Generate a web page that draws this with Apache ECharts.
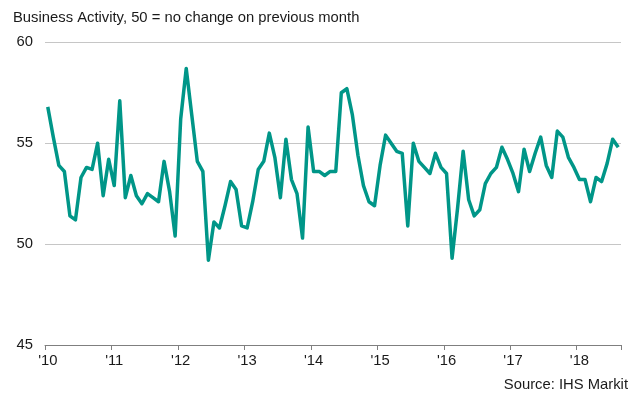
<!DOCTYPE html>
<html>
<head>
<meta charset="utf-8">
<script src="https://cdn.jsdelivr.net/npm/echarts@6/dist/echarts.min.js"></script>
<style>
html,body{margin:0;padding:0;background:#fff;}
#c{width:638px;height:398px;}
</style>
</head>
<body>
<div id="c"></div>
<script>
// Tick labels (one per January)
const yearLabels = ["'10","'11","'12","'13","'14","'15","'16","'17","'18"];
// Monthly business activity index, Jan 2010 – Aug 2018
const values2010 = [56.8,55.3,53.9,53.6,51.4,51.2,53.3,53.8,53.7,55.0,52.4,54.2];
const values2011 = [52.9,57.1,52.3,53.4,52.4,52.0,52.5,52.3,52.1,54.1,52.6,50.4];
const values2012 = [56.2,58.7,56.4,54.1,53.6,49.2,51.1,50.8,51.9,53.1,52.7,50.9];
const values2013 = [50.8,52.1,53.7,54.1,55.5,54.3,52.3,55.2,53.2,52.5,50.3,55.8];
const values2014 = [53.6,53.6,53.4,53.6,53.6,57.5,57.7,56.4,54.4,52.9,52.1,51.9];
const values2015 = [53.9,55.4,55.0,54.6,54.5,50.9,55.0,54.1,53.8,53.5,54.5,53.8];
const values2016 = [53.5,49.3,51.8,54.6,52.2,51.4,51.7,53.0,53.5,53.8,54.8,54.2];
const values2017 = [53.5,52.6,54.7,53.6,54.5,55.3,53.9,53.3,55.6,55.3,54.3,53.8];
const values2018 = [53.2,53.2,52.1,53.3,53.1,54.0,55.2,54.8];

const values = [].concat(values2010, values2011, values2012, values2013, values2014,
  values2015, values2016, values2017, values2018);
const categories = values.map((v, i) => i);

const FONT = 'Liberation Sans, Arial, sans-serif';
const FS = 14.8;
const chart = echarts.init(document.getElementById('c'), null, {renderer: 'canvas'});
chart.setOption({
  animation: false,
  backgroundColor: '#ffffff',
  grid: {left: 45, right: 17, top: 42.3, bottom: 53},
  graphic: [
    {type: 'text', left: 13, top: 10,
     style: {text: 'Business Activity, 50 = no change on previous month', font: FS + 'px ' + FONT, fill: '#1a1a1a'}},
    {type: 'text', right: 10, top: 377,
     style: {text: 'Source: IHS Markit', font: FS + 'px ' + FONT, fill: '#1a1a1a'}}
  ],
  xAxis: {
    type: 'category',
    data: categories,
    boundaryGap: true,
    axisLine: {show: true, lineStyle: {color: '#7f7f7f', width: 1}},
    axisTick: {show: true, interval: 11, length: 5, lineStyle: {color: '#7f7f7f'}},
    axisLabel: {
      interval: 11, margin: 8, fontSize: FS, fontFamily: FONT, color: '#1a1a1a',
      formatter: function (v, idx) { return yearLabels[Math.floor(idx / 12)]; }
    },
    splitLine: {show: false}
  },
  yAxis: {
    type: 'value', min: 45, max: 60, interval: 5,
    axisLine: {show: false}, axisTick: {show: false},
    axisLabel: {margin: 12, fontSize: FS, fontFamily: FONT, color: '#1a1a1a'},
    splitLine: {show: true, lineStyle: {color: '#c6c6c6', width: 1}}
  },
  series: [{
    type: 'line',
    data: values,
    showSymbol: false,
    symbol: 'none',
    lineStyle: {color: '#009688', width: 3.5, join: 'round'},
    z: 3
  }]
});
</script>
</body>
</html>
